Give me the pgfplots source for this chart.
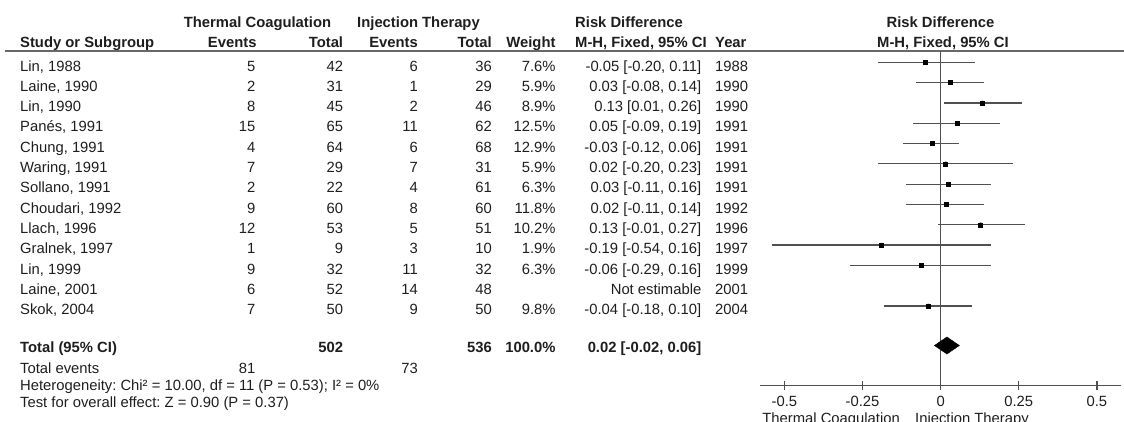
\documentclass[border=0pt]{standalone}
\usepackage{pgfplots}
\pgfplotsset{compat=1.18}
\usepackage{pgfplotstable}
\usepackage{fontspec}
\setmainfont{Liberation Sans}
\frenchspacing
\definecolor{txt}{HTML}{1E1E1E}
\definecolor{lgray}{HTML}{505050}
\definecolor{hdr}{HTML}{686868}
\newcommand\fs{\fontsize{14.8bp}{17bp}\selectfont\frenchspacing}

% row: index, rd (point estimate), lower, upper, weight (%)
\pgfplotstableread{
row rd lo hi w
0 -0.048 -0.20 0.11 7.6
1 0.030 -0.08 0.14 5.9
2 0.134 0.01 0.26 8.9
3 0.053 -0.09 0.19 12.5
4 -0.026 -0.12 0.06 12.9
5 0.016 -0.20 0.23 5.9
6 0.025 -0.11 0.16 6.3
7 0.017 -0.11 0.14 11.8
8 0.128 -0.01 0.27 10.2
9 -0.189 -0.54 0.16 1.9
10 -0.063 -0.29 0.16 6.3
12 -0.040 -0.18 0.10 9.8
}\forest

\newcommand\trow[9]{%
  \pgfmathsetmacro\yy{71+20.3*#1}%
  \node[anchor=base west] at (20,\yy) {#2};
  \node[anchor=base east] at (255.5,\yy) {#3};
  \node[anchor=base east] at (343.3,\yy) {#4};
  \node[anchor=base east] at (418,\yy) {#5};
  \node[anchor=base east] at (492,\yy) {#6};
  \node[anchor=base east] at (555.7,\yy) {#7};
  \node[anchor=base east] at (701.5,\yy) {#8};
  \node[anchor=base west] at (715,\yy) {#9};
}

\begin{document}
\begin{tikzpicture}[x=1bp,y=-1bp,every node/.style={inner sep=0pt,text=txt,font=\fs}]
\useasboundingbox (0,0) rectangle (1124,421);
\clip (0,0) rectangle (1124,421);

% headers
\node[anchor=base] at (257.5,27.5) {\bfseries Thermal Coagulation};
\node[anchor=base] at (418.5,27.5) {\bfseries Injection Therapy};
\node[anchor=base west] at (575,27.5) {\bfseries Risk Difference};
\node[anchor=base] at (940.5,27.5) {\bfseries Risk Difference};
\node[anchor=base west] at (20,47.7) {\bfseries Study or Subgroup};
\node[anchor=base east] at (256.7,47.7) {\bfseries Events};
\node[anchor=base east] at (343.3,47.7) {\bfseries Total};
\node[anchor=base east] at (418,47.7) {\bfseries Events};
\node[anchor=base east] at (492,47.7) {\bfseries Total};
\node[anchor=base east] at (555.7,47.7) {\bfseries Weight};
\node[anchor=base west] at (575,47.7) {\bfseries M-H, Fixed, 95\% CI};
\node[anchor=base west] at (715,47.7) {\bfseries Year};
\node[anchor=base] at (943,47.7) {\bfseries M-H, Fixed, 95\% CI};
\draw[line width=2bp,hdr] (5,50.7) -- (1124,50.7);

% study rows
\trow{0}{Lin, 1988}{5}{42}{6}{36}{7.6\%}{-0.05 [-0.20, 0.11]}{1988}
\trow{1}{Laine, 1990}{2}{31}{1}{29}{5.9\%}{0.03 [-0.08, 0.14]}{1990}
\trow{2}{Lin, 1990}{8}{45}{2}{46}{8.9\%}{0.13 [0.01, 0.26]}{1990}
\trow{3}{Panés, 1991}{15}{65}{11}{62}{12.5\%}{0.05 [-0.09, 0.19]}{1991}
\trow{4}{Chung, 1991}{4}{64}{6}{68}{12.9\%}{-0.03 [-0.12, 0.06]}{1991}
\trow{5}{Waring, 1991}{7}{29}{7}{31}{5.9\%}{0.02 [-0.20, 0.23]}{1991}
\trow{6}{Sollano, 1991}{2}{22}{4}{61}{6.3\%}{0.03 [-0.11, 0.16]}{1991}
\trow{7}{Choudari, 1992}{9}{60}{8}{60}{11.8\%}{0.02 [-0.11, 0.14]}{1992}
\trow{8}{Llach, 1996}{12}{53}{5}{51}{10.2\%}{0.13 [-0.01, 0.27]}{1996}
\trow{9}{Gralnek, 1997}{1}{9}{3}{10}{1.9\%}{-0.19 [-0.54, 0.16]}{1997}
\trow{10}{Lin, 1999}{9}{32}{11}{32}{6.3\%}{-0.06 [-0.29, 0.16]}{1999}
\trow{11}{Laine, 2001}{6}{52}{14}{48}{}{Not estimable}{2001}
\trow{12}{Skok, 2004}{7}{50}{9}{50}{9.8\%}{-0.04 [-0.18, 0.10]}{2004}

% totals
\node[anchor=base west] at (20,352.5) {\bfseries Total (95\% CI)};
\node[anchor=base east] at (343.3,352.5) {\bfseries 502};
\node[anchor=base east] at (492,352.5) {\bfseries 536};
\node[anchor=base east] at (555.7,352.5) {\bfseries 100.0\%};
\node[anchor=base east] at (701.5,352.5) {\bfseries 0.02 [-0.02, 0.06]};
\node[anchor=base west] at (20,373) {Total events};
\node[anchor=base east] at (255.5,373) {81};
\node[anchor=base east] at (418,373) {73};
\node[anchor=base west] at (20,390.5) {Heterogeneity: Chi² = 10.00, df = 11 (P = 0.53); I² = 0\%};
\node[anchor=base west] at (20,407.3) {Test for overall effect: Z = 0.90 (P = 0.37)};

\coordinate (axsw) at (760.4,385.5);
\begin{axis}[
  at={(axsw)}, anchor=south west,
  scale only axis, width=360.5bp, height=334.8bp,
  xmin=-0.577, xmax=0.577, ymin=-15.92, ymax=0.571,
  axis lines=left,
  axis line style={-, line width=1.3bp, draw=lgray},
  y axis line style={draw=none},
  ytick=\empty,
  xtick={-0.5,-0.25,0.25,0.5},
  xticklabels={-0.5,-0.25,0.25,0.5},
  extra x ticks={0},
  extra x tick labels={0},
  tick align=center, major tick length=9bp,
  every tick/.style={line width=1.3bp, draw=lgray},
  xticklabel style={anchor=base, yshift=-16.2bp, inner sep=0pt, font=\fs, text=txt},
  clip=false,
]
\addplot[lgray, line width=1.3bp] coordinates {(0,-15.92) (0,0.571)};
\addplot[only marks, mark=none,
  error bars/.cd, x dir=both, x explicit, error mark=none,
  error bar style={draw=lgray, line width=1.2bp}]
  table[x=rd, y expr=-\thisrow{row},
        x error plus expr=\thisrow{hi}-\thisrow{rd},
        x error minus expr=\thisrow{rd}-\thisrow{lo}] {\forest};
\addplot[scatter, only marks, mark=square*, point meta=explicit,
  visualization depends on={0.65*sqrt(\thisrow{w})\as\msz},
  scatter/@pre marker code/.append style={/tikz/mark size=\msz},
  scatter/use mapped color={draw=black, fill=black}]
  table[x=rd, y expr=-\thisrow{row}, meta=w] {\forest};
\addplot[fill=black, draw=black] coordinates
  {(-0.02,-13.95) (0.02,-13.53) (0.06,-13.95) (0.02,-14.37)} -- cycle;
\end{axis}

\node[anchor=base east] at (900,423) {Thermal Coagulation};
\node[anchor=base west] at (915,423) {Injection Therapy};
\end{tikzpicture}
\end{document}
